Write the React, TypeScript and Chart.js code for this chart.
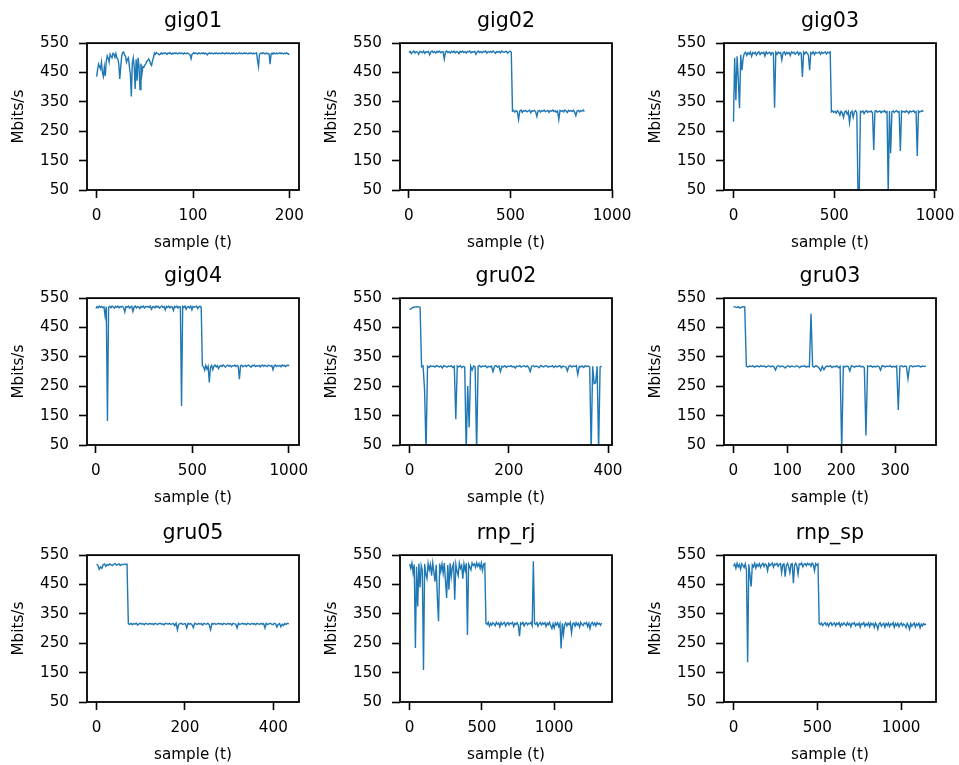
import React, { useEffect, useRef } from 'react';
import { Chart, registerables } from 'chart.js';

Chart.register(...registerables);

// ---------------- data (Mbits/s per sample) ----------------
const gig01Y = [
  436, 460, 479, 470, 462, 485, 450, 436, 468, 438,
  490, 507, 498, 485, 512, 505, 500, 515, 512, 502,
  514, 500, 496, 479, 428, 470, 505, 518, 520, 510,
  505, 485, 495, 500, 470, 445, 368, 480, 500, 470,
  394, 495, 422, 500, 470, 392, 480, 445, 470, 468,
  475, 479, 488, 490, 496, 490, 479, 474, 490, 502,
  516, 512, 518, 515, 514, 510, 512, 517, 513, 516,
  514, 517, 515, 513, 516, 514, 518, 515, 512, 516,
  514, 517, 515, 516, 513, 515, 517, 514, 516, 515,
  513, 517, 515, 514, 516, 515, 513, 510, 497, 512,
  515, 517, 514, 516, 515, 513, 517, 515, 514, 516,
  515, 517, 513, 516, 514, 510, 515, 517, 514, 516,
  515, 513, 516, 514, 517, 515, 513, 516, 515, 514,
  517, 515, 516, 513, 515, 517, 514, 516, 515, 513,
  516, 514, 517, 515, 513, 516, 514, 515, 517, 514,
  516, 513, 515, 517, 514, 516, 515, 513, 516, 514,
  517, 515, 513, 516, 514, 515, 517, 490, 470, 512,
  515, 516, 514, 517, 515, 513, 516, 514, 515, 513,
  478, 512, 516, 514, 517, 515, 513, 516, 514, 515,
  517, 514, 516, 515, 513, 516, 514, 517, 515, 512,
  514,
];

const gig02Y = [
  518, 522, 514, 520, 523, 516, 521, 519, 512, 522,
  520, 517, 523, 515, 521, 519, 522, 510, 520, 523,
  518, 521, 516, 522, 519, 523, 517, 520, 521, 496,
  520, 523, 518, 521, 516, 522, 519, 523, 517, 521,
  520, 514, 522, 519, 523, 518, 521, 516, 522, 520,
  523, 517, 521, 519, 522, 512, 520, 523, 518, 521,
  517, 522, 520, 523, 516, 521, 519, 522, 518, 523,
  520, 515, 521, 519, 522, 517, 523, 520, 518, 521,
  522, 516, 520, 523, 519,
  318, 321, 315, 320, 317, 290, 319, 322, 314, 320,
  318, 321, 316, 319, 322, 313, 320, 318, 321, 316,
  300, 319, 321, 315, 320, 318, 322, 316, 319, 321,
  314, 320, 318, 322, 317, 320, 315, 319, 290, 321,
  318, 320, 316, 322, 319, 314, 321, 318, 320, 317,
  322, 315, 303, 319, 321, 316, 320, 318, 322, 317,
];

const gig03Y = [
  282, 500, 356, 505, 426, 328, 510, 458, 498, 515,
  519, 508, 517, 512, 520, 505, 518, 514, 519, 509,
  517, 520, 511, 518, 515, 519, 506, 520, 514, 517,
  519, 510, 518, 516, 330, 519, 512, 520, 515, 518,
  493, 517, 520, 511, 519, 514, 518, 508, 520, 516,
  519, 512, 517, 520, 510, 518, 515, 435, 519, 513,
  520, 516, 509, 458, 518, 514, 520, 511, 519, 516,
  517, 520, 512, 519, 515, 518, 520, 513, 519, 517,
  520,
  316, 319, 314, 318, 312, 320, 315, 305, 318, 313,
  297, 316, 319, 308, 317, 279, 314, 319, 297, 316,
  320, 312, 40, 40, 318, 315, 319, 310, 317, 320,
  314, 318, 316, 319, 312, 186, 318, 320, 315, 317,
  319, 313, 318, 316, 320, 314, 317, 40, 319, 175,
  316, 319, 314, 318, 320, 315, 317, 183, 319, 316,
  318, 314, 320, 317, 311, 319, 316, 318, 320, 314,
  317, 166, 319, 315, 318, 320, 317,
];

const gig04Y = [
  515, 521, 517, 523, 519, 522, 518, 520, 489, 521,
  132, 519, 522, 517, 523, 520, 516, 522, 519, 523,
  517, 521, 520, 522, 518, 503, 521, 519, 523, 516,
  520, 522, 505, 519, 523, 517, 521, 520, 514, 522,
  519, 523, 516, 521, 520, 522, 518, 523, 512, 520,
  521, 517, 523, 519, 522, 516, 520, 523, 518, 521,
  510, 522, 519, 523, 517, 521, 520, 508, 522, 519,
  523, 516, 521, 520, 183, 522, 518, 523, 512, 520,
  521, 517, 523, 510, 522, 519, 520, 523, 514, 521,
  522, 519,
  320, 317, 305, 321, 308, 318, 263, 315, 321, 306,
  319, 322, 316, 320, 310, 318, 321, 317, 322, 319,
  315, 320, 322, 318, 321, 316, 320, 319, 322, 317,
  321, 318, 274, 320, 322, 316, 319, 321, 317, 320,
  322, 318, 315, 321, 319, 322, 317, 320, 318, 321,
  316, 320, 322, 318, 321, 319, 317, 322, 320, 318,
  321, 306, 319, 322, 317, 320, 318, 321, 316, 322,
  319, 321, 317, 320, 322, 319,
];

const gru02Y = [
  511, 514, 518, 519, 520, 521, 520, 519,
  316, 319, 240, 30, 318, 314, 320, 317, 319, 315,
  320, 318, 316, 319, 312, 320, 318, 315, 319, 317,
  320, 314, 318, 138, 319, 316, 320, 313, 318, 316,
  30, 251, 110, 318, 305, 319, 316, 30, 318, 320,
  315, 319, 317, 320, 313, 318, 316, 319, 300, 318,
  320, 315, 319, 300, 318, 316, 320, 314, 319, 317,
  320, 316, 318, 312, 319, 317, 320, 315, 318, 320,
  316, 319, 314, 300, 318, 320, 316, 319, 317, 313,
  320, 318, 316, 319, 320, 315, 318, 317, 320, 314,
  319, 316, 318, 320, 313, 319, 317, 316, 302, 318,
  320, 315, 319, 317, 320, 290, 318, 316, 319, 314,
  320, 317, 319, 315, 30, 318, 259, 262, 318, 30,
  316, 318,
];

const gru03Y = [
  521, 520, 518, 521, 516, 519, 521, 520,
  318, 316, 319, 317, 320, 315, 318, 319, 316, 320,
  317, 319, 315, 318, 320, 316, 319, 317, 305, 318,
  320, 316, 319, 317, 312, 318, 320, 315, 319, 317,
  316, 320, 318, 313, 319, 317, 320, 315, 318, 316,
  497, 318, 315, 320, 317, 312, 303, 318, 306, 316,
  319, 317, 320, 314, 318, 316, 320, 313, 318, 30,
  318, 316, 319, 317, 302, 320, 318, 315, 319, 317,
  320, 316, 318, 313, 82, 319, 317, 320, 315, 318,
  316, 319, 317, 305, 320, 318, 316, 319, 317, 320,
  315, 318, 316, 319, 169, 318, 320, 316, 319, 317,
  276, 318, 320, 316, 319, 317, 320, 318, 316, 319,
  317, 319,
];

const gru05Y = [
  519, 516, 502, 510, 505, 517, 520, 512, 518, 515,
  520, 517, 514, 519, 521, 516, 518, 520, 515, 519,
  517, 520, 518, 519,
  316, 314, 318, 313, 317, 315, 318, 312, 316, 318,
  315, 317, 313, 318, 316, 314, 318, 315, 317, 313,
  318, 316, 314, 317, 318, 315, 316, 313, 318, 317,
  315, 318, 314, 316, 317, 310, 318, 296, 315, 317,
  318, 314, 316, 317, 302, 318, 315, 317, 313, 303,
  318, 316, 314, 318, 315, 317, 312, 318, 316, 315,
  318, 313, 296, 317, 315, 318, 314, 316, 318, 315,
  317, 313, 318, 316, 314, 318, 315, 317, 312, 318,
  316, 315, 302, 318, 314, 316, 318, 315, 317, 313,
  318, 316, 314, 318, 315, 317, 313, 318, 316, 314,
  318, 315, 317, 302, 318, 314, 316, 318, 315, 313,
  318, 316, 305, 314, 317, 306, 315, 310, 317, 314,
  318, 316,
];

const rnpRjY = [
  520, 505, 523, 490, 518, 234, 510, 375, 521, 440,
  515, 498, 159, 520, 485, 470, 522, 500, 518, 480,
  523, 492, 460, 517, 404, 325, 521, 495, 519, 488,
  523, 462, 404, 516, 432, 522, 476, 510, 521, 398,
  518, 495, 480, 523, 505, 515, 470, 520, 498, 522,
  278, 519, 510, 500, 523, 515, 520, 508, 524, 512,
  521, 505, 523, 498, 519, 522,
  319, 314, 321, 308, 318, 312, 320, 316, 310, 321,
  315, 319, 306, 320, 313, 318, 321, 309, 317, 320,
  312, 319, 316, 321, 307, 318, 314, 320, 311, 274,
  319, 315, 321, 309, 317, 320, 313, 318, 316, 321,
  310, 529, 318, 314, 320, 308, 317, 321, 312, 319,
  315, 320, 307, 318, 313, 321, 310, 300, 316, 302,
  319, 312, 320, 306, 317, 232, 318, 280, 314, 320,
  309, 318, 313, 321, 285, 316, 319, 308, 320, 312,
  318, 305, 321, 314, 310, 319, 316, 320, 307, 318,
  300, 317, 321, 312, 319, 309, 320, 315, 318, 311,
  319,
];

const rnpSpY = [
  512, 520, 505, 522, 510, 518, 502, 521, 515, 508,
  520, 498, 185, 519, 480, 443, 517, 510, 522, 506,
  519, 512, 521, 508, 518, 522, 511, 520, 516, 497,
  521, 514, 519, 523, 509, 520, 517, 522, 512, 519,
  521, 490, 518, 520, 477, 515, 522, 510, 490, 519,
  521, 455, 516, 522, 512, 485, 520, 518, 523, 510,
  519, 521, 514, 522, 517, 520, 512, 523, 518, 497,
  521, 515, 520,
  317, 313, 319, 310, 316, 320, 312, 318, 308, 317,
  320, 311, 316, 319, 309, 318, 314, 320, 307, 317,
  312, 319, 315, 310, 320, 313, 317, 306, 318, 315,
  320, 309, 316, 312, 319, 305, 317, 314, 320, 308,
  316, 311, 319, 306, 318, 313, 317, 304, 319, 312,
  298, 316, 320, 308, 314, 318, 305, 317, 311, 319,
  307, 316, 313, 320, 304, 317, 310, 318, 306, 315,
  319, 309, 316, 312, 303, 318, 311, 298, 317, 308,
  314, 319, 305, 316, 311, 318, 302, 315, 309, 317,
  313, 316,
];

const panelTitles = ['gig01', 'gig02', 'gig03', 'gig04', 'gru02', 'gru03', 'gru05', 'rnp_rj', 'rnp_sp'];
const seriesList = [gig01Y, gig02Y, gig03Y, gig04Y, gru02Y, gru03Y, gru05Y, rnpRjY, rnpSpY];
const sampleSteps = [1, 6, 6, 6, 3, 3, 3, 8, 7];
const xLimits = [
  [-10, 210], [-44, 1000], [-47, 1005],
  [-46, 1053], [-19.5, 408], [-17.5, 376],
  [-21.5, 458], [-66.5, 1400], [-57, 1208],
];
const xTickValues = [
  [0, 100, 200], [0, 500, 1000], [0, 500, 1000],
  [0, 500, 1000], [0, 200, 400], [0, 100, 200, 300],
  [0, 200, 400], [0, 500, 1000], [0, 500, 1000],
];
const yLimits = [50, 550];
const yTickValues = [50, 150, 250, 350, 450, 550];
const xAxisLabel = 'sample (t)';
const yAxisLabel = 'Mbits/s';

// ---------------- layout / style ----------------
const FONT = "'DejaVu Sans', sans-serif";
const LINE_COLOR = '#1f77b4';
const COL_LEFT = [87, 400, 724];
const ROW_TOP = [43, 298, 555];
const PLOT_W = 212;
const PLOT_H = 147;
const M_LEFT = 85;
const M_TOP = 40;
const M_RIGHT = 25;
const M_BOTTOM = 62;

Chart.defaults.font.family = FONT;
Chart.defaults.color = '#000';

const framePlugin = {
  id: 'frame',
  afterDatasetsDraw(chart: any) {
    const { ctx, chartArea } = chart;
    const { left, top, right, bottom } = chartArea;
    ctx.save();
    ctx.strokeStyle = '#000';
    ctx.lineWidth = 1.8;
    ctx.strokeRect(left, top, right - left, bottom - top);
    ctx.restore();
  },
};

function Panel({ index }: { index: number }) {
  const ref = useRef<HTMLCanvasElement | null>(null);
  const width = PLOT_W + M_LEFT + M_RIGHT;
  const height = PLOT_H + M_TOP + M_BOTTOM;
  const col = index % 3;
  const row = Math.floor(index / 3);

  useEffect(() => {
    const canvas = ref.current;
    if (!canvas) return;
    const ys = seriesList[index];
    const step = sampleSteps[index];
    const points = ys.map((v, i) => ({ x: i * step, y: v }));
    const tickFont = { family: FONT, size: 15.2 };
    const gridOpts = {
      display: true,
      drawOnChartArea: false,
      drawTicks: true,
      tickLength: 8,
      tickWidth: 1.6,
      tickColor: '#000',
    };
    const chart = new Chart(canvas, {
      type: 'line',
      data: {
        datasets: [
          {
            data: points,
            borderColor: LINE_COLOR,
            backgroundColor: LINE_COLOR,
            borderWidth: 1.4,
            pointRadius: 0,
            fill: false,
            tension: 0,
          },
        ],
      },
      options: {
        animation: false,
        responsive: false,
        devicePixelRatio: 1,
        layout: { padding: { left: 0, top: 0, right: M_RIGHT, bottom: 0 } },
        plugins: {
          legend: { display: false },
          tooltip: { enabled: false },
          title: {
            display: true,
            text: panelTitles[index],
            color: '#000',
            fullSize: false,
            font: { family: FONT, size: 20.6, weight: 'normal', lineHeight: 1.2 },
            padding: { top: 5.9, bottom: 9.5 },
          },
        },
        scales: {
          x: {
            type: 'linear',
            min: xLimits[index][0],
            max: xLimits[index][1],
            afterBuildTicks: (s: any) => {
              s.ticks = xTickValues[index].map((value) => ({ value }));
            },
            ticks: {
              autoSkip: false,
              maxRotation: 0,
              color: '#000',
              font: tickFont,
              padding: 8.5,
              callback: (v: any) => String(v),
            },
            grid: gridOpts,
            border: { display: false },
            title: {
              display: true,
              text: xAxisLabel,
              color: '#000',
              font: tickFont,
              padding: { top: 0, bottom: 0 },
            },
            afterFit: (s: any) => {
              s.height = M_BOTTOM;
              s.paddingLeft = 0;
              s.paddingRight = 0;
            },
          },
          y: {
            type: 'linear',
            min: yLimits[0],
            max: yLimits[1],
            afterBuildTicks: (s: any) => {
              s.ticks = yTickValues.map((value) => ({ value }));
            },
            ticks: {
              autoSkip: false,
              color: '#000',
              font: tickFont,
              padding: 10,
              callback: (v: any) => String(v),
            },
            grid: gridOpts,
            border: { display: false },
            title: {
              display: true,
              text: yAxisLabel,
              color: '#000',
              font: tickFont,
              padding: { top: 8, bottom: 0 },
            },
            afterFit: (s: any) => {
              s.width = M_LEFT;
              s.paddingTop = 0;
              s.paddingBottom = 0;
            },
          },
        },
      } as any,
      plugins: [framePlugin],
    });
    return () => chart.destroy();
  }, [index]);

  return (
    <div
      style={{
        position: 'absolute',
        left: COL_LEFT[col] - M_LEFT,
        top: ROW_TOP[row] - M_TOP,
        width,
        height,
      }}
    >
      <canvas ref={ref} width={width} height={height} style={{ display: 'block' }} />
    </div>
  );
}

export default function App() {
  return (
    <div
      style={{
        position: 'absolute',
        left: 0,
        top: 0,
        width: 959,
        height: 765,
        background: '#fff',
        overflow: 'hidden',
      }}
    >
      {panelTitles.map((_, i) => (
        <Panel key={i} index={i} />
      ))}
    </div>
  );
}
